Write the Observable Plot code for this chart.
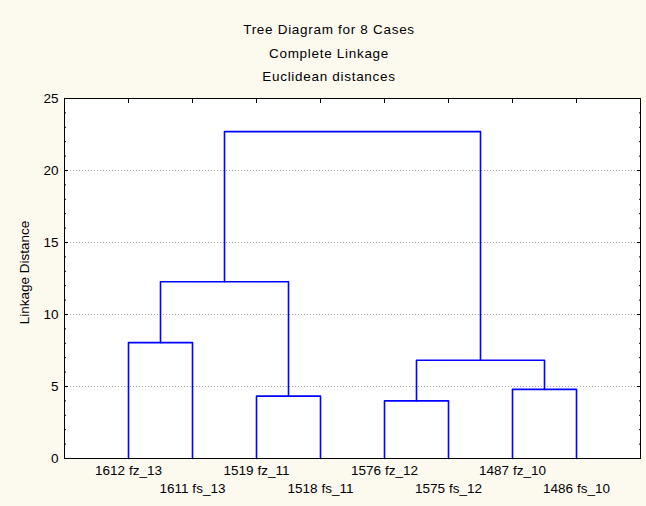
<!DOCTYPE html>
<html>
<head>
<meta charset="utf-8">
<script src="https://cdn.jsdelivr.net/npm/d3@7"></script>
<script src="https://cdn.jsdelivr.net/npm/@observablehq/plot@0.6"></script>
<style>
  html, body { margin: 0; padding: 0; background: #fcf9ef; }
  #wrap { position: relative; width: 646px; height: 506px; background: #fcf9ef; overflow: hidden;
          font-family: "Liberation Sans", Arial, sans-serif; color: #000; }
  .title { position: absolute; left: 229px; width: 200px; text-align: center; font-size: 13.5px;
           letter-spacing: 0.7px; line-height: 16px; white-space: nowrap; }
  #chart { position: absolute; left: 0; top: 88px; }
</style>
</head>
<body>
<div id="wrap">
  <div class="title" style="top:22px">Tree Diagram for 8 Cases</div>
  <div class="title" style="top:46px">Complete Linkage</div>
  <div class="title" style="top:69px">Euclidean distances</div>
  <div id="chart"></div>
</div>
<script>
// ---- data ----
const leaves = ["1612 fz_13", "1611 fs_13", "1519 fz_11", "1518 fs_11",
                "1576 fz_12", "1575 fs_12", "1487 fz_10", "1486 fs_10"];
// children: number = leaf index, "mK" = merge K
const mergeLeft   = [4, 2, 6, "m0", 0, "m4", "m5"];
const mergeRight  = [5, 3, 7, "m2", 1, "m1", "m3"];
const mergeHeight = [4.0, 4.33, 4.8, 6.82, 8.05, 12.27, 22.7];
const yTicks = [0, 5, 10, 15, 20, 25];
const yMinorTicks = d3.range(0, 26);
const yLabel = "Linkage Distance";

// ---- build dendrogram paths from the merge table ----
const leafX = (i) => i + 1;
const node = {};
function pos(c) {
  if (typeof c === "number") return {x: leafX(c), h: 0};
  return node[c];
}
const segs = [];
mergeHeight.forEach((h, k) => {
  const a = pos(mergeLeft[k]), b = pos(mergeRight[k]);
  node["m" + k] = {x: (a.x + b.x) / 2, h};
  segs.push({k, x: a.x, y: a.h}, {k, x: a.x, y: h}, {k, x: b.x, y: h}, {k, x: b.x, y: b.h});
});

const xDomain = [0, leaves.length + 1];
const xTicks = d3.range(xDomain[0], xDomain[1] + 1);
const font = "Liberation Sans, Arial, sans-serif";

const chart = Plot.plot({
  width: 646,
  height: 418,
  marginLeft: 64,
  marginRight: 6,
  marginTop: 10,
  marginBottom: 48,
  style: {background: "transparent", fontFamily: font, fontSize: "13.5px", color: "#000"},
  x: {domain: xDomain, axis: null},
  y: {domain: [0, 25], axis: null},
  marks: [
    Plot.frame({fill: "white", stroke: "none"}),
    Plot.gridY([5, 10, 15, 20], {stroke: "#aaaaaa", strokeOpacity: 1, strokeDasharray: "1,2"}),
    // inner ticks
    Plot.axisY({anchor: "left", ticks: yTicks, tickSize: 4, dx: 4, tickFormat: () => "", label: null}),
    Plot.axisY({anchor: "left", ticks: yMinorTicks, tickSize: 2, dx: 2, tickFormat: () => "", label: null}),
    Plot.axisY({anchor: "right", ticks: yTicks, tickSize: 4, dx: -4, tickFormat: () => "", label: null}),
    Plot.axisY({anchor: "right", ticks: yMinorTicks, tickSize: 2, dx: -2, tickFormat: () => "", label: null}),
    Plot.axisX({anchor: "top", ticks: xTicks, tickSize: 4, dy: 4, tickFormat: () => "", label: null}),
    Plot.axisX({anchor: "bottom", ticks: xTicks, tickSize: 4, dy: -4, tickFormat: () => "", label: null}),
    // y tick labels
    Plot.axisY({anchor: "left", ticks: yTicks, tickSize: 0, tickPadding: 6, label: null,
                fontSize: 13.5, letterSpacing: 0.5}),
    Plot.text([yLabel], {frameAnchor: "left", rotate: -90, textAnchor: "middle", dx: -40, dy: -6,
                         fontSize: 13.5, letterSpacing: 0.6}),
    // leaf labels, two staggered rows
    Plot.text(leaves.filter((d, i) => i % 2 === 0), {x: (d) => leafX(leaves.indexOf(d)), text: (d) => d,
              frameAnchor: "bottom", dy: 16, fontSize: 13.5, letterSpacing: 0.8}),
    Plot.text(leaves.filter((d, i) => i % 2 === 1), {x: (d) => leafX(leaves.indexOf(d)), text: (d) => d,
              frameAnchor: "bottom", dy: 34, fontSize: 13.5, letterSpacing: 0.8}),
    // dendrogram
    Plot.line(segs, {x: "x", y: "y", z: "k", stroke: "#0000ff", strokeWidth: 1.6, curve: "linear"}),
    Plot.frame({stroke: "#000", strokeWidth: 1})
  ]
});
document.getElementById("chart").appendChild(chart);
</script>
</body>
</html>
